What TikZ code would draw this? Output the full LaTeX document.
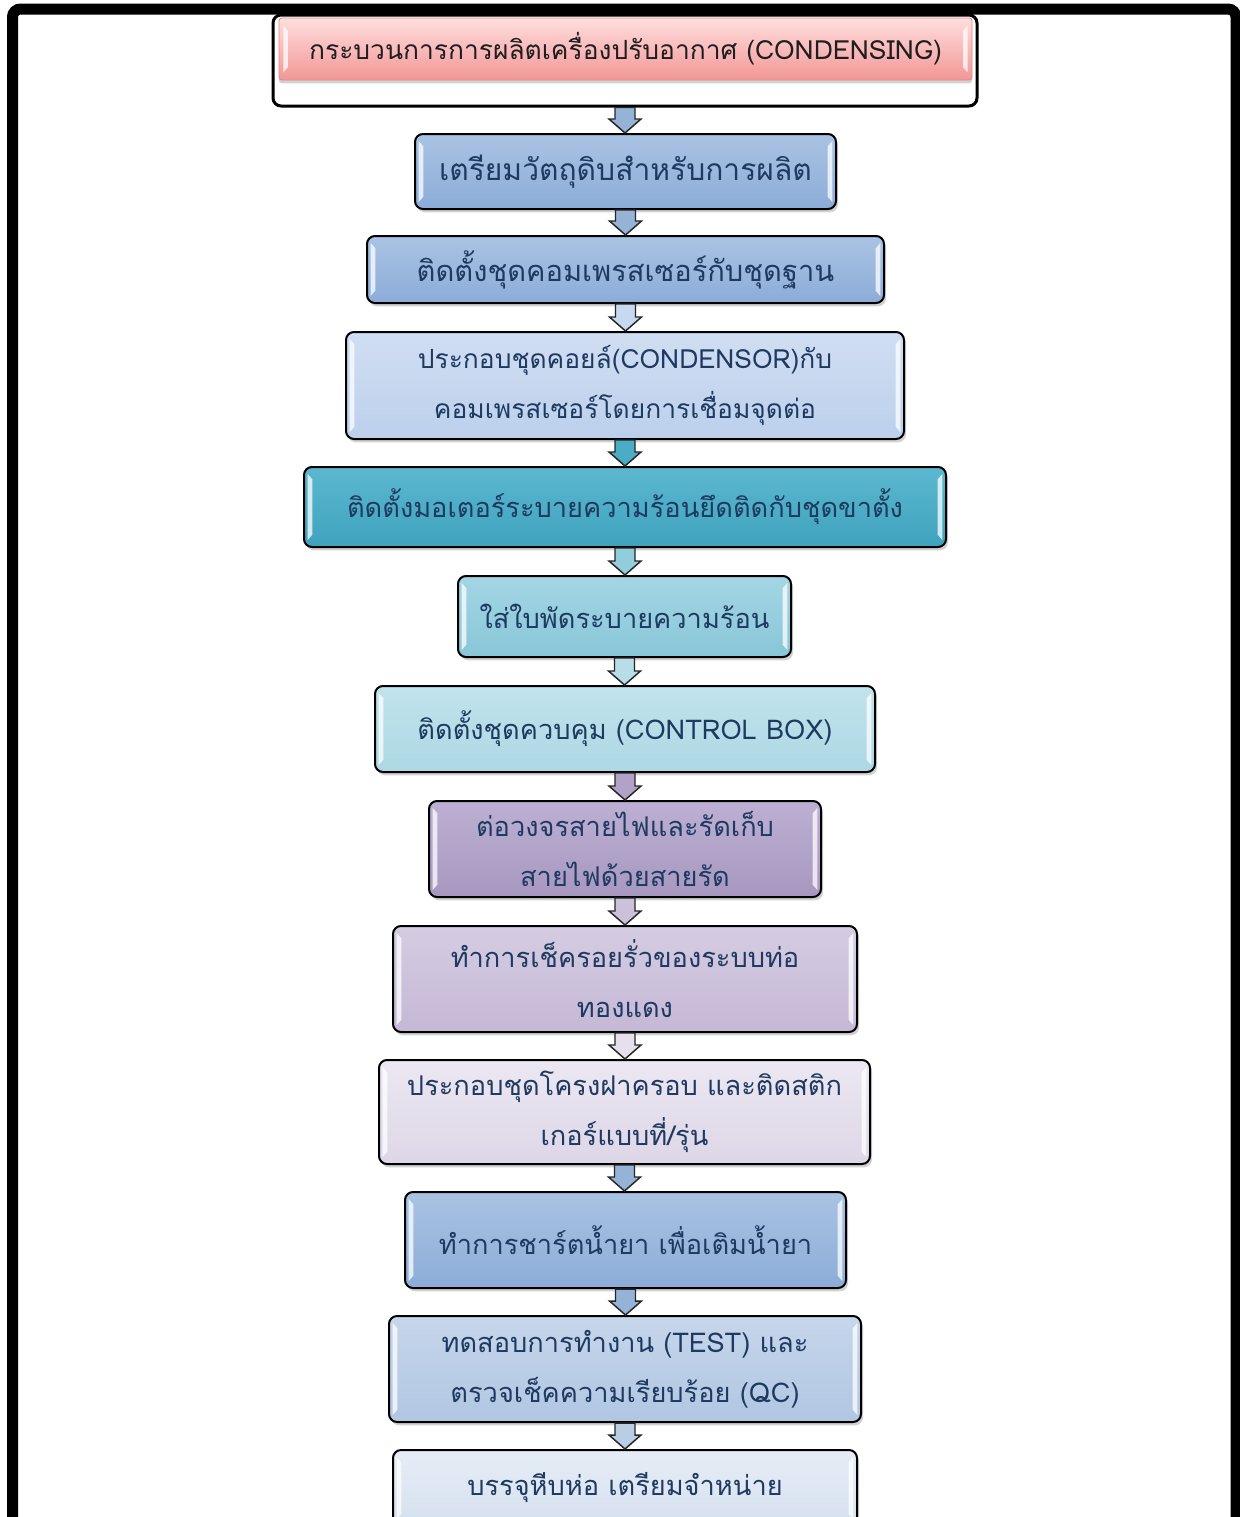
\documentclass[tikz,border=0pt]{standalone}
\usepackage{fontspec}
\newfontfamily\thaifont[Script=Thai]{Loma}
\usetikzlibrary{calc,shadows}
\definecolor{txtnavy}{HTML}{1F3A60}
\definecolor{arrowedge}{HTML}{262626}
\definecolor{titletxt}{HTML}{1E1E1E}
\definecolor{pinkedge}{HTML}{D98C8C}
\definecolor{pinktop}{HTML}{FFDEDE}
\definecolor{pinkbot}{HTML}{F39696}
\definecolor{aT}{HTML}{A9C3E3}\definecolor{aB}{HTML}{8CACD8}
\definecolor{bT}{HTML}{D0DEF2}\definecolor{bB}{HTML}{BCD0EC}
\definecolor{cT}{HTML}{5CB8D0}\definecolor{cB}{HTML}{3FA2BD}
\definecolor{dT}{HTML}{A4D6E4}\definecolor{dB}{HTML}{88C6D8}
\definecolor{eT}{HTML}{C2E3EC}\definecolor{eB}{HTML}{ACD8E4}
\definecolor{fT}{HTML}{BDB0D3}\definecolor{fB}{HTML}{A797C0}
\definecolor{gT}{HTML}{D5CCE2}\definecolor{gB}{HTML}{C5B8D6}
\definecolor{hT}{HTML}{ECE8F2}\definecolor{hB}{HTML}{DDD6E7}
\definecolor{kT}{HTML}{C6D6EB}\definecolor{kB}{HTML}{B0C6E2}
\definecolor{mT}{HTML}{E6EDF6}\definecolor{mB}{HTML}{D5E0EF}
\definecolor{arA}{HTML}{95B3D7}
\definecolor{arB}{HTML}{C6D9F1}
\definecolor{arC}{HTML}{4BACC6}
\definecolor{arD}{HTML}{92CDDC}
\definecolor{arE}{HTML}{B7DEE8}
\definecolor{arF}{HTML}{B2A2C7}
\definecolor{arG}{HTML}{CCC1DA}
\definecolor{arH}{HTML}{E5E0EC}
\definecolor{arK}{HTML}{B9CDE5}
\tikzset{
  pbox/.style n args={4}{draw=black, line width=1.5pt, rounded corners=6pt,
    top color=#1, bottom color=#2, minimum width=#3, minimum height=#4,
    inner sep=0pt, align=center, text=txtnavy,
    font=\thaifont\fontsize{20.4}{37.5}\selectfont,
    drop shadow={opacity=0.35, shadow xshift=1.5pt, shadow yshift=-2.5pt}},
  fsz/.style={font=\thaifont\fontsize{#1}{37.5}\selectfont},
  arrowline/.style={draw=arrowedge, line width=1.1pt, line join=miter},
  hilite/.style={fill=white, opacity=0.75}
}
\newcommand\flowdown[3]{%
  \draw[arrowline, fill=#3] let \p1=(#1.south), \p2=(#2.north) in
   (\x1-7.5pt,\y1) -- (\x1-7.5pt,\y2+10.5pt) -- (\x1-12pt,\y2+10.5pt) -- (\x1,\y2)
   -- (\x1+12pt,\y2+10.5pt) -- (\x1+7.5pt,\y2+10.5pt) -- (\x1+7.5pt,\y1) -- cycle;}
\newcommand\bevelhl[1]{%
  \fill[hilite] ([xshift=3.5pt,yshift=-6pt]#1.north west) -- ([xshift=7pt,yshift=-10pt]#1.north west)
    -- ([xshift=7pt,yshift=10pt]#1.south west) -- ([xshift=3.5pt,yshift=6pt]#1.south west) -- cycle;
  \fill[hilite] ([xshift=-3.5pt,yshift=-6pt]#1.north east) -- ([xshift=-7pt,yshift=-10pt]#1.north east)
    -- ([xshift=-7pt,yshift=10pt]#1.south east) -- ([xshift=-3.5pt,yshift=6pt]#1.south east) -- cycle;}
\begin{document}
\begin{tikzpicture}[x=0.75pt,y=-0.75pt]
\useasboundingbox (0,0) rectangle (1239,1517);
\fill[white] (0,0) rectangle (1239,1517);
% outer frame
\draw[line width=8.25pt, rounded corners=6pt] (12.5,9) rectangle (1236,1700);

% title
\node[draw=black, line width=2.25pt, rounded corners=6pt, fill=white,
      minimum width=528pt, minimum height=68.25pt] (titleframe) at (625,60.5) {};
\node[draw=pinkedge, line width=0.6pt, rounded corners=2pt,
      top color=pinktop, bottom color=pinkbot,
      minimum width=519.75pt, minimum height=46.5pt, inner sep=0pt,
      drop shadow={opacity=0.35, shadow xshift=0pt, shadow yshift=-2.5pt},
      font=\thaifont\fontsize{19.8}{24}\selectfont, text=titletxt]
      (title) at (625.5,49) {กระบวนการการผลิตเครื่องปรับอากาศ (CONDENSING)};
\bevelhl{title}

% process boxes
\node[pbox={aT}{aB}{315.75pt}{56.25pt}, fsz=22.5] (s1) at (625.5,171.5)
  {เตรียมวัตถุดิบสำหรับการผลิต};
\node[pbox={aT}{aB}{387.75pt}{50.25pt}, fsz=21.8] (s2) at (625.5,269.5)
  {ติดตั้งชุดคอมเพรสเซอร์กับชุดฐาน};
\node[pbox={bT}{bB}{418.5pt}{80.25pt}, fsz=19.8] (s3) at (625,385.5)
  {ประกอบชุดคอยล์(CONDENSOR)กับ\\คอมเพรสเซอร์โดยการเชื่อมจุดต่อ};
\node[pbox={cT}{cB}{481.5pt}{60pt}] (s4) at (625,507)
  {ติดตั้งมอเตอร์ระบายความร้อนยึดติดกับชุดขาตั้ง};
\node[pbox={dT}{dB}{249.75pt}{60.75pt}] (s5) at (624.5,616.5)
  {ใส่ใบพัดระบายความร้อน};
\node[pbox={eT}{eB}{375pt}{64.5pt}] (s6) at (625,729)
  {ติดตั้งชุดควบคุม (CONTROL BOX)};
\node[pbox={fT}{fB}{294pt}{72pt}] (s7) at (625,849)
  {ต่อวงจรสายไฟและรัดเก็บ\\สายไฟด้วยสายรัด};
\node[pbox={gT}{gB}{348pt}{79.5pt}] (s8) at (625,979)
  {ทำการเช็ครอยรั่วของระบบท่อ\\ทองแดง};
\node[pbox={hT}{hB}{368.25pt}{78pt}] (s9) at (624.5,1112)
  {ประกอบชุดโครงฝาครอบ และติดสติก\\เกอร์แบบที่/รุ่น};
\node[pbox={aT}{aB}{330.75pt}{72pt}] (s10) at (625.5,1240)
  {ทำการชาร์ตน้ำยา เพื่อเติมน้ำยา};
\node[pbox={kT}{kB}{354pt}{79.5pt}] (s11) at (625,1369)
  {ทดสอบการทำงาน (TEST) และ\\ตรวจเช็คความเรียบร้อย (QC)};
\node[pbox={mT}{mB}{348pt}{57pt}] (s12) at (625,1488)
  {บรรจุหีบห่อ เตรียมจำหน่าย};

\foreach \b in {s1,s2,s3,s4,s5,s6,s7,s8,s9,s10,s11,s12} {\bevelhl{\b}}

% connectors
\flowdown{titleframe}{s1}{arA}
\flowdown{s1}{s2}{arA}
\flowdown{s2}{s3}{arB}
\flowdown{s3}{s4}{arC}
\flowdown{s4}{s5}{arD}
\flowdown{s5}{s6}{arE}
\flowdown{s6}{s7}{arF}
\flowdown{s7}{s8}{arG}
\flowdown{s8}{s9}{arH}
\flowdown{s9}{s10}{arA}
\flowdown{s10}{s11}{arA}
\flowdown{s11}{s12}{arK}
\end{tikzpicture}
\end{document}
